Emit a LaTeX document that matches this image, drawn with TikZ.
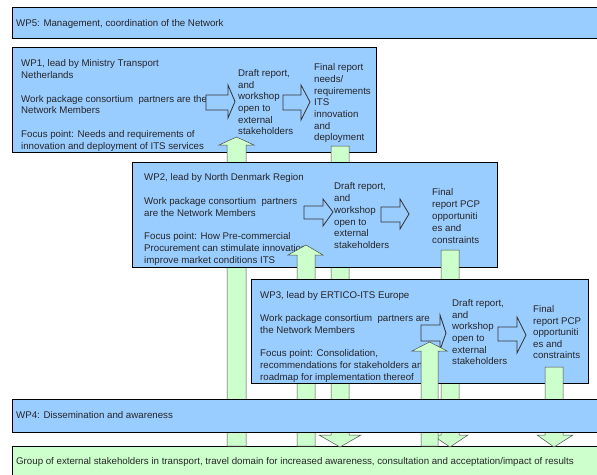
\documentclass[tikz,border=0pt]{standalone}
\usepackage{fontspec}
\setmainfont{Liberation Sans}
\definecolor{wpblue}{RGB}{153,204,255}
\definecolor{grn}{RGB}{204,255,204}
\tikzset{
  wpbox/.style={fill=wpblue, draw=black, line width=0.8pt},
  grpbox/.style={fill=grn, draw=black, line width=0.8pt},
  greenarr/.style={fill=grn, draw=black!70, line width=0.5pt},
  hollowarr/.style={fill=wpblue, draw=black!80, line width=0.8pt},
  txt/.style={anchor=north west, inner sep=0pt, align=left, text=black!85,
    font=\fontsize{9.7}{11.8}\selectfont},
}
\begin{document}
\begin{tikzpicture}[x=1pt,y=-1pt]
\useasboundingbox (0,0) rectangle (597,474);
% WP5
\draw[wpbox] (12,7) rectangle (600,38);
\node[txt] (wp5) at (16,19.5) {WP5: Management, coordination of the Network};
% Group of external stakeholders
\draw[grpbox] (12,446) rectangle (600,480);
\node[txt] (grp) at (16,457.5) {Group of external stakeholders in transport, travel domain for increased awareness, consultation and acceptation/impact of results};
% WP1
\draw[wpbox] (12,47) rectangle (376,152);
\node[txt] (wp1) at (21,59.5) {WP1, lead by Ministry Transport\\Netherlands\\[11.8pt]Work package consortium\ \ partners are the\\Network Members\\[11.8pt]Focus point: Needs and requirements of\\innovation and deployment of ITS services};
\node[txt, font=\fontsize{9.7}{11.6}\selectfont] (wp1d) at (238,69.5) {Draft report,\\and\\workshop\\open to\\external\\stakeholders};
\node[txt, font=\fontsize{9.7}{11.7}\selectfont] (wp1f) at (314,63.5) {Final report\\needs/\\requirements\\ITS\\innovation\\and\\deployment};
\draw[hollowarr] (206,95) -- (228,95) -- (228,85) -- (235,101.5) -- (228,118) -- (228,110) -- (206,110) -- cycle;
\draw[hollowarr] (283,95) -- (301,95) -- (301,85) -- (310,102) -- (301,120) -- (301,110) -- (283,110) -- cycle;
% green arrows of WP1
\draw[greenarr] (227,446) -- (227,145) -- (219,145) -- (236.5,137) -- (254,145) -- (246,145) -- (246,446) -- cycle;
\draw[greenarr] (331,146) -- (349,146) -- (349,435) -- (361,435) -- (340,447) -- (319,435) -- (331,435) -- cycle;
% WP2
\draw[wpbox] (132,162) rectangle (497,267);
\node[txt] (wp2) at (144,173.5) {WP2, lead by North Denmark Region\\[11.8pt]Work package consortium\ \ partners\\are the Network Members\\[11.8pt]Focus point: How Pre-commercial\\Procurement can stimulate innovation\\improve market conditions ITS};
\node[txt] (wp2d) at (334,182.5) {Draft report,\\and\\workshop\\open to\\external\\stakeholders};
\node[txt, font=\fontsize{9.7}{12}\selectfont] (wp2f) at (432,188.5) {Final\\report PCP\\opportuniti\\es and\\constraints};
\draw[hollowarr] (304,206) -- (323,206) -- (323,199) -- (333,212) -- (323,226) -- (323,219) -- (304,219) -- cycle;
\draw[hollowarr] (381,207) -- (400,207) -- (400,199) -- (409,214) -- (400,229) -- (400,222) -- (381,222) -- cycle;
\draw[greenarr] (297,446) -- (297,255) -- (288,255) -- (306,245) -- (323,255) -- (315,255) -- (315,446) -- cycle;
\draw[greenarr] (441,250) -- (459,250) -- (459,435) -- (468,435) -- (450,447) -- (432,435) -- (441,435) -- cycle;
% WP3
\draw[wpbox] (251,279) rectangle (588,383);
\node[txt] (wp3) at (260,291.5) {WP3, lead by ERTICO-ITS Europe\\[11.3pt]Work package consortium\ \ partners are\\the Network Members\\[11.3pt]Focus point: Consolidation,\\recommendations for stakeholders and\\roadmap for implementation thereof};
\node[txt, font=\fontsize{9.7}{11.6}\selectfont] (wp3d) at (452,299.5) {Draft report,\\and\\workshop\\open to\\external\\stakeholders};
\node[txt, font=\fontsize{9.7}{11.5}\selectfont] (wp3f) at (533,305.5) {Final\\report PCP\\opportuniti\\es and\\constraints};
\draw[hollowarr] (421,325) -- (440,325) -- (440,315) -- (446,333) -- (440,350) -- (440,341) -- (421,341) -- cycle;
\draw[hollowarr] (498,327) -- (517,327) -- (517,317) -- (526,335) -- (517,353) -- (517,341) -- (498,341) -- cycle;
\draw[greenarr] (421,446) -- (421,351) -- (412,351) -- (429.5,342) -- (447,351) -- (438,351) -- (438,446) -- cycle;
\draw[greenarr] (545,367) -- (563,367) -- (563,435) -- (573,435) -- (554,447) -- (537,435) -- (545,435) -- cycle;
% WP4
\draw[wpbox] (12,399) rectangle (600,432);
\node[txt] (wp4) at (16,411.5) {WP4: Dissemination and awareness};
\end{tikzpicture}
\end{document}
